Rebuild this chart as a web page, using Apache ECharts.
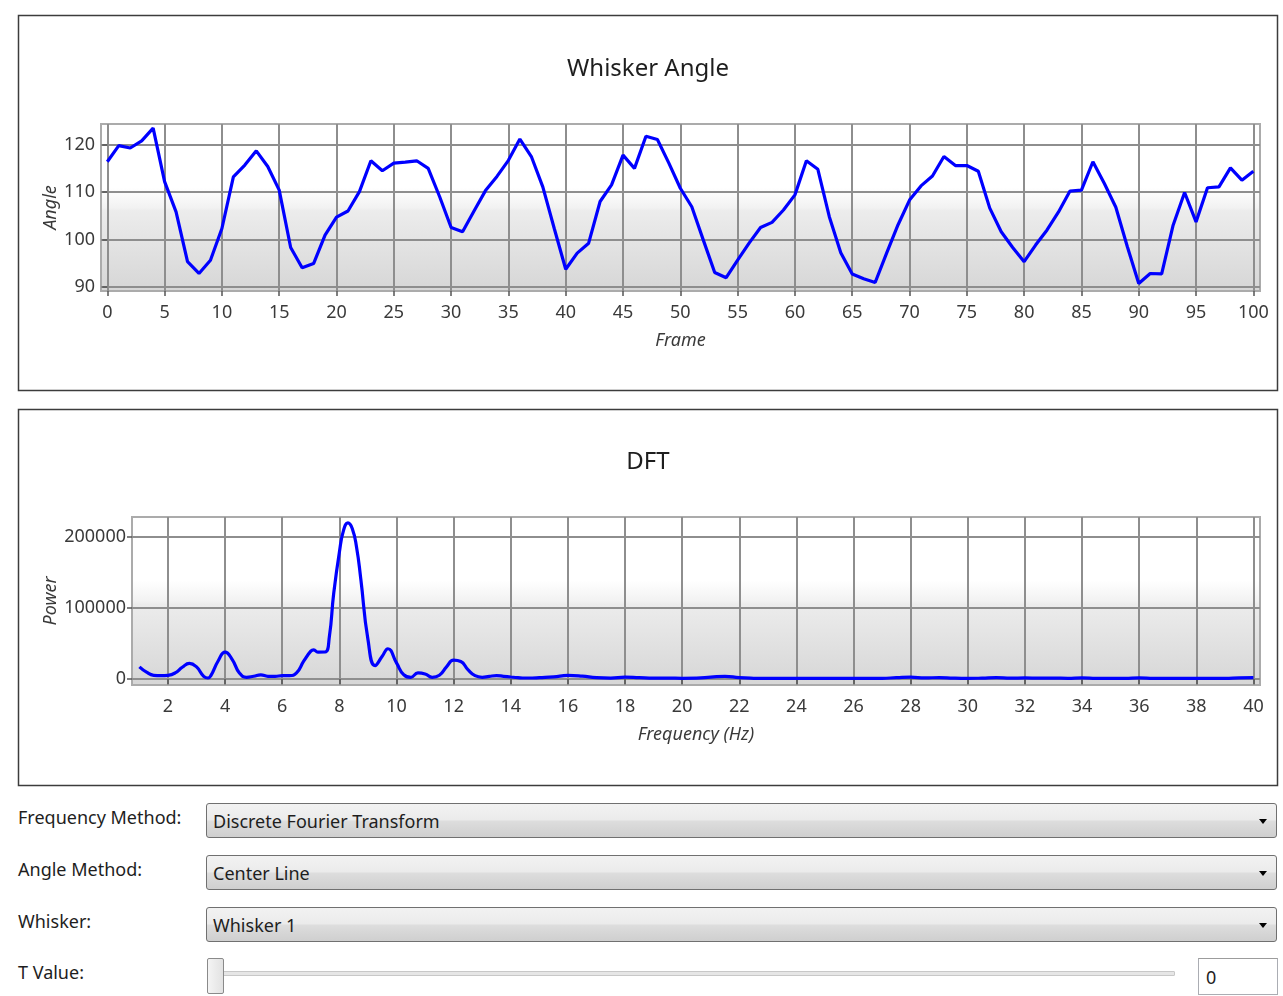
<!DOCTYPE html>
<html>
<head>
<meta charset="utf-8">
<script src="https://cdn.jsdelivr.net/npm/echarts@6/dist/echarts.min.js"></script>
<style>
  html, body { margin: 0; padding: 0; background: #ffffff; }
  body { width: 1283px; height: 996px; position: relative; overflow: hidden; font-family: "Noto Sans", "Open Sans", sans-serif; }
  #chart { position: absolute; left: 0; top: 0; width: 1283px; height: 800px; }
  .lbl { position: absolute; left: 18px; font-size: 18px; color: #1e1e1e; line-height: 20px; }
  .combo { position: absolute; left: 206px; width: 1069px; height: 33px; border: 1px solid #707070; border-radius: 3px;
           background: linear-gradient(to bottom, #f2f2f2 0%, #ebebeb 48%, #dddddd 52%, #cfcfcf 100%); box-sizing: content-box; }
  .combo span { position: absolute; left: 6px; top: 6px; font-size: 18px; color: #1e1e1e; line-height: 22px; }
  .combo i { position: absolute; right: 9px; top: 15px; width: 0; height: 0; border-left: 4px solid transparent; border-right: 4px solid transparent; border-top: 5px solid #000; }
  .track { position: absolute; left: 215px; top: 971px; width: 958px; height: 3px; border: 1px solid #c8c8c8; background: #e6e6e6; border-radius: 1px; }
  .thumb { position: absolute; left: 207px; top: 958px; width: 15px; height: 34px; border: 1px solid #8a8a8a; border-radius: 2px;
           background: linear-gradient(to right, #f4f4f4, #e2e2e2); }
  .tbox { position: absolute; left: 1198px; top: 958px; width: 78px; height: 35px; border: 1px solid #abadb3; border-top-color: #9c9c9c; background: #fff; }
  .tbox span { position: absolute; left: 7px; top: 7px; font-size: 18px; color: #1e1e1e; line-height: 22px; }
</style>
</head>
<body>
<div id="chart"></div>

<div class="lbl" style="top:807px;">Frequency Method:</div>
<div class="combo" style="top:803px;"><span>Discrete Fourier Transform</span><i></i></div>
<div class="lbl" style="top:859px;">Angle Method:</div>
<div class="combo" style="top:855px;"><span>Center Line</span><i></i></div>
<div class="lbl" style="top:911px;">Whisker:</div>
<div class="combo" style="top:907px;"><span>Whisker 1</span><i></i></div>
<div class="lbl" style="top:962px;">T Value:</div>
<div class="track"></div>
<div class="thumb"></div>
<div class="tbox"><span>0</span></div>

<script>
// ---------- Data ----------
const frames = [];
for (let i = 0; i <= 100; i++) frames.push(i);

const angles = [
  116.4, 119.8, 119.3, 120.8, 123.5, 112.2, 105.8, 95.3, 92.8, 95.6,
  102.3, 113.2, 115.7, 118.7, 115.4, 110.4, 98.3, 94.0, 94.9, 100.9,
  104.7, 106.0, 110.1, 116.6, 114.5, 116.1, 116.3, 116.6, 115.0, 109.0,
  102.5, 101.6, 106.0, 110.3, 113.3, 116.7, 121.2, 117.5, 111.1, 102.3,
  93.7, 97.1, 99.2, 108.0, 111.5, 117.8, 115.0, 121.8, 121.1, 116.1,
  110.8, 106.9, 99.9, 93.0, 91.9, 95.6, 99.2, 102.5, 103.6, 106.2,
  109.4, 116.6, 114.8, 104.8, 97.2, 92.7, 91.7, 90.9, 97.1, 103.1,
  108.3, 111.3, 113.4, 117.5, 115.6, 115.6, 114.4, 106.6, 101.6, 98.3,
  95.3, 98.8, 102.0, 105.8, 110.2, 110.4, 116.4, 111.8, 106.8, 98.5,
  90.7, 92.8, 92.7, 103.0, 109.9, 103.7, 110.9, 111.1, 115.1, 112.5,
  114.4
];

const dftFreq = [
  1.0, 1.25, 1.5, 1.75, 2.0, 2.25, 2.5, 2.75, 3.0, 3.25, 3.4, 3.5, 3.75, 4.0, 4.25, 4.5, 4.75,
  5.0, 5.25, 5.5, 5.75, 6.0, 6.25, 6.5, 6.75, 7.0, 7.1, 7.25, 7.5, 7.65, 7.8, 8.0, 8.15, 8.3, 8.45, 8.6, 8.75,
  9.0, 9.25, 9.5, 9.7, 10.0, 10.25, 10.5, 10.75, 11.0, 11.25, 11.5, 11.75, 12.0, 12.25, 12.5, 12.75,
  13.0, 13.25, 13.5, 13.75, 14.0, 14.25, 14.5, 14.75, 15.0, 15.5, 16.0, 16.5, 17.0, 17.5, 18.0, 18.5,
  19.0, 19.5, 20.0, 20.5, 21.0, 21.5, 22.0, 22.5, 23.0, 23.5, 24.0, 24.5, 25.0, 25.5, 26.0, 26.5,
  27.0, 27.5, 28.0, 28.5, 29.0, 29.5, 30.0, 30.5, 31.0, 31.5, 32.0, 32.5, 33.0, 33.5, 34.0, 34.5,
  35.0, 35.5, 36.0, 36.5, 37.0, 37.5, 38.0, 38.5, 39.0, 39.5, 40.0
];
const dftPower = [
  17000, 9500, 5200, 4700, 5200, 8500, 16500, 22000, 17000, 3800, 1400, 4700, 25000, 37800, 27400, 8500, 2400,
  3800, 5700, 3800, 3800, 4700, 4700, 8500, 25000, 39200, 41000, 37800, 38000, 60000, 120000, 178700, 210000, 219900, 212000, 186000, 140900,
  55800, 18900, 32100, 42600, 22700, 6100, 2400, 8500, 7100, 2400, 5200, 17000, 26500, 24600, 13200, 4700,
  2400, 3800, 4700, 3800, 2800, 1900, 1400, 1400, 1900, 3000, 5000, 4000, 1800, 1200, 2500, 1800,
  1200, 1200, 1000, 1200, 2500, 3800, 1800, 1000, 800, 800, 800, 800, 800, 800, 800, 800,
  1000, 1800, 2500, 1500, 2000, 1200, 900, 1200, 1800, 1200, 1500, 1200, 1300, 1000, 1500, 1000,
  900, 800, 1500, 1000, 900, 900, 900, 900, 900, 1500, 1800
];

const angleTicks = [90, 100, 110, 120];
const frameTicks = [0, 5, 10, 15, 20, 25, 30, 35, 40, 45, 50, 55, 60, 65, 70, 75, 80, 85, 90, 95, 100];
const powerTicks = [0, 100000, 200000];
const freqTicks = [2, 4, 6, 8, 10, 12, 14, 16, 18, 20, 22, 24, 26, 28, 30, 32, 34, 36, 38, 40];

// ---------- Chart ----------
const chart = echarts.init(document.getElementById('chart'), null, { renderer: 'canvas' });

const FONT = '"Noto Sans", "Open Sans", sans-serif';
const labelColor = '#3a3a3a';
function makeBg() {
  return new echarts.graphic.LinearGradient(0, 0, 0, 1, [
    { offset: 0, color: '#ffffff' },
    { offset: 0.38, color: '#ffffff' },
    { offset: 0.5, color: '#f2f2f2' },
    { offset: 0.52, color: '#ececec' },
    { offset: 1, color: '#d6d6d6' }
  ]);
}

function xAxisCfg(gridIndex, min, max, ticks, name) {
  return {
    type: 'value', gridIndex, min, max,
    name, nameLocation: 'middle', nameGap: 41, nameMoveOverlap: false,
    nameTextStyle: { fontFamily: FONT, fontSize: 18, fontStyle: 'italic', color: labelColor },
    axisLine: { show: false },
    axisTick: { show: true, inside: false, length: 5, customValues: ticks, lineStyle: { color: '#555', width: 1.5 } },
    axisLabel: { customValues: ticks, margin: 13, fontFamily: FONT, fontSize: 18, color: labelColor, formatter: v => String(v) },
    splitLine: { show: true, lineStyle: { color: '#8e8e8e', width: 2 } }
  };
}
function yAxisCfg(gridIndex, min, max, ticks, name, gap) {
  return {
    type: 'value', gridIndex, min, max,
    name, nameLocation: 'middle', nameGap: gap, nameMoveOverlap: false,
    nameTextStyle: { fontFamily: FONT, fontSize: 18, fontStyle: 'italic', color: labelColor },
    axisLine: { show: false },
    axisTick: { show: true, inside: false, length: 5, customValues: ticks, lineStyle: { color: '#555', width: 1.5 } },
    axisLabel: { customValues: ticks, margin: 6, fontFamily: FONT, fontSize: 18, color: labelColor, formatter: v => String(v) },
    splitLine: { show: true, lineStyle: { color: '#8e8e8e', width: 2 } }
  };
}

const option = {
  animation: false,
  backgroundColor: '#ffffff',
  title: [
    { text: 'Whisker Angle', left: 648, textAlign: 'center', top: 57, padding: 0,
      textStyle: { fontFamily: FONT, fontSize: 24, fontWeight: 'normal', color: '#1e1e1e' } },
    { text: 'DFT', left: 648, textAlign: 'center', top: 450, padding: 0,
      textStyle: { fontFamily: FONT, fontSize: 24, fontWeight: 'normal', color: '#1e1e1e' } }
  ],
  graphic: [
    { type: 'rect', shape: { x: 18.5, y: 15.5, width: 1259, height: 375 }, style: { fill: null, stroke: '#3c3c3c', lineWidth: 1.5 }, z: 0 },
    { type: 'rect', shape: { x: 18.5, y: 409.5, width: 1259, height: 376 }, style: { fill: null, stroke: '#3c3c3c', lineWidth: 1.5 }, z: 0 }
  ],
  grid: [
    { left: 101, top: 124, width: 1159, height: 167, show: true, backgroundColor: makeBg(), borderColor: '#ababab', borderWidth: 2 },
    { left: 132, top: 517, width: 1128, height: 168, show: true, backgroundColor: makeBg(), borderColor: '#ababab', borderWidth: 2 }
  ],
  xAxis: [
    xAxisCfg(0, -0.55, 100.58, frameTicks, 'Frame'),
    xAxisCfg(1, 0.74, 40.23, freqTicks, 'Frequency (Hz)')
  ],
  yAxis: [
    yAxisCfg(0, 89.1, 124.37, angleTicks, 'Angle', 41),
    yAxisCfg(1, -8470, 228200, powerTicks, 'Power', 72)
  ],
  series: [
    {
      type: 'line', xAxisIndex: 0, yAxisIndex: 0,
      data: frames.map((f, i) => [f, angles[i]]),
      showSymbol: false, smooth: false,
      lineStyle: { color: '#0000ff', width: 3.2 }
    },
    {
      type: 'line', xAxisIndex: 1, yAxisIndex: 1,
      data: dftFreq.map((f, i) => [f, dftPower[i]]),
      showSymbol: false, smooth: 0.5,
      lineStyle: { color: '#0000ff', width: 3.2 }
    }
  ]
};
chart.setOption(option);
</script>
</body>
</html>
